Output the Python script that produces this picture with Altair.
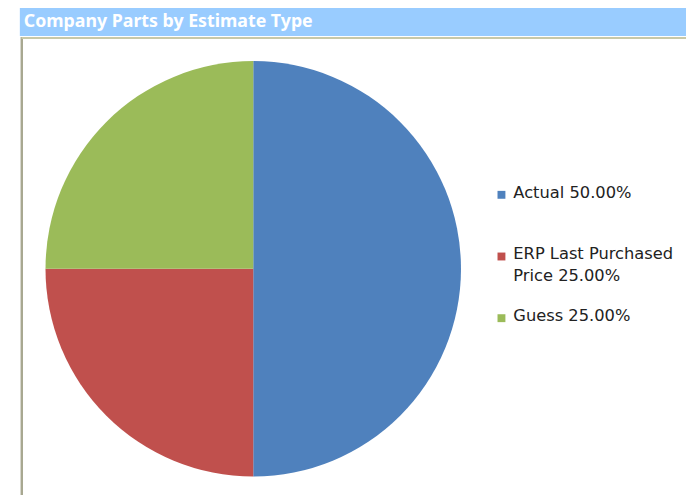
import altair as alt
import pandas as pd

categories = ["Actual", "ERP Last Purchased Price", "Guess"]
values = [50.0, 25.0, 25.0]
legend_labels = ["Actual 50.00%", "ERP Last Purchased\nPrice 25.00%", "Guess 25.00%"]
colors = ["#4f81bd", "#c0504d", "#9bbb59"]
title_text = "Company Parts by Estimate Type"

df = pd.DataFrame({"category": categories, "value": values, "label": legend_labels,
                   "order": list(range(len(categories)))})

color_scale = alt.Scale(domain=categories, range=colors)

header = alt.Chart(pd.DataFrame({"t": [title_text]})).mark_text(
    align="left", baseline="middle", color="white", fontSize=18, fontWeight="bold",
    font="Noto Sans"
).encode(
    text="t:N", x=alt.value(4), y=alt.value(17)
).properties(width=675, height=31, view=alt.ViewBackground(fill="#99ccff", stroke=None))

pie = alt.Chart(df).mark_arc(radius=210.5).encode(
    theta=alt.Theta("value:Q", stack=True),
    order=alt.Order("order:Q"),
    color=alt.Color("category:N", scale=color_scale, legend=None),
    x=alt.value(236.5), y=alt.value(235),
)

ypos = alt.Y("order:Q", scale=alt.Scale(domain=[0, 2], range=[160, 285]), axis=None)

squares = alt.Chart(df).mark_square(size=64, opacity=1).encode(
    x=alt.value(488), y=ypos,
    color=alt.Color("category:N", scale=color_scale, legend=None),
)

texts = alt.Chart(df).mark_text(
    align="left", baseline="top", lineBreak="\n", fontSize=16.5, font="DejaVu Sans",
    color="#222222", lineHeight=22, dy=-10
).encode(
    x=alt.value(500), y=ypos, text="label:N"
)

frame_left = alt.Chart(df).mark_rule(color="#a8a890", strokeWidth=2).encode(
    x=alt.value(2), y=alt.value(0), y2=alt.value(470)
)
frame_top = alt.Chart(df).mark_rule(color="#c8c8a8", strokeWidth=2).encode(
    x=alt.value(2), x2=alt.value(675), y=alt.value(1)
)

body = alt.layer(pie, squares, texts, frame_left, frame_top).properties(
    width=675, height=455,
    view=alt.ViewBackground(fill="white", stroke=None)
)

chart = alt.vconcat(header, body, spacing=0).properties(
    padding={"left": 12, "top": -6, "right": 0, "bottom": 0}
)

chart.save("out.html", embed_options={"renderer": "svg", "actions": False})
